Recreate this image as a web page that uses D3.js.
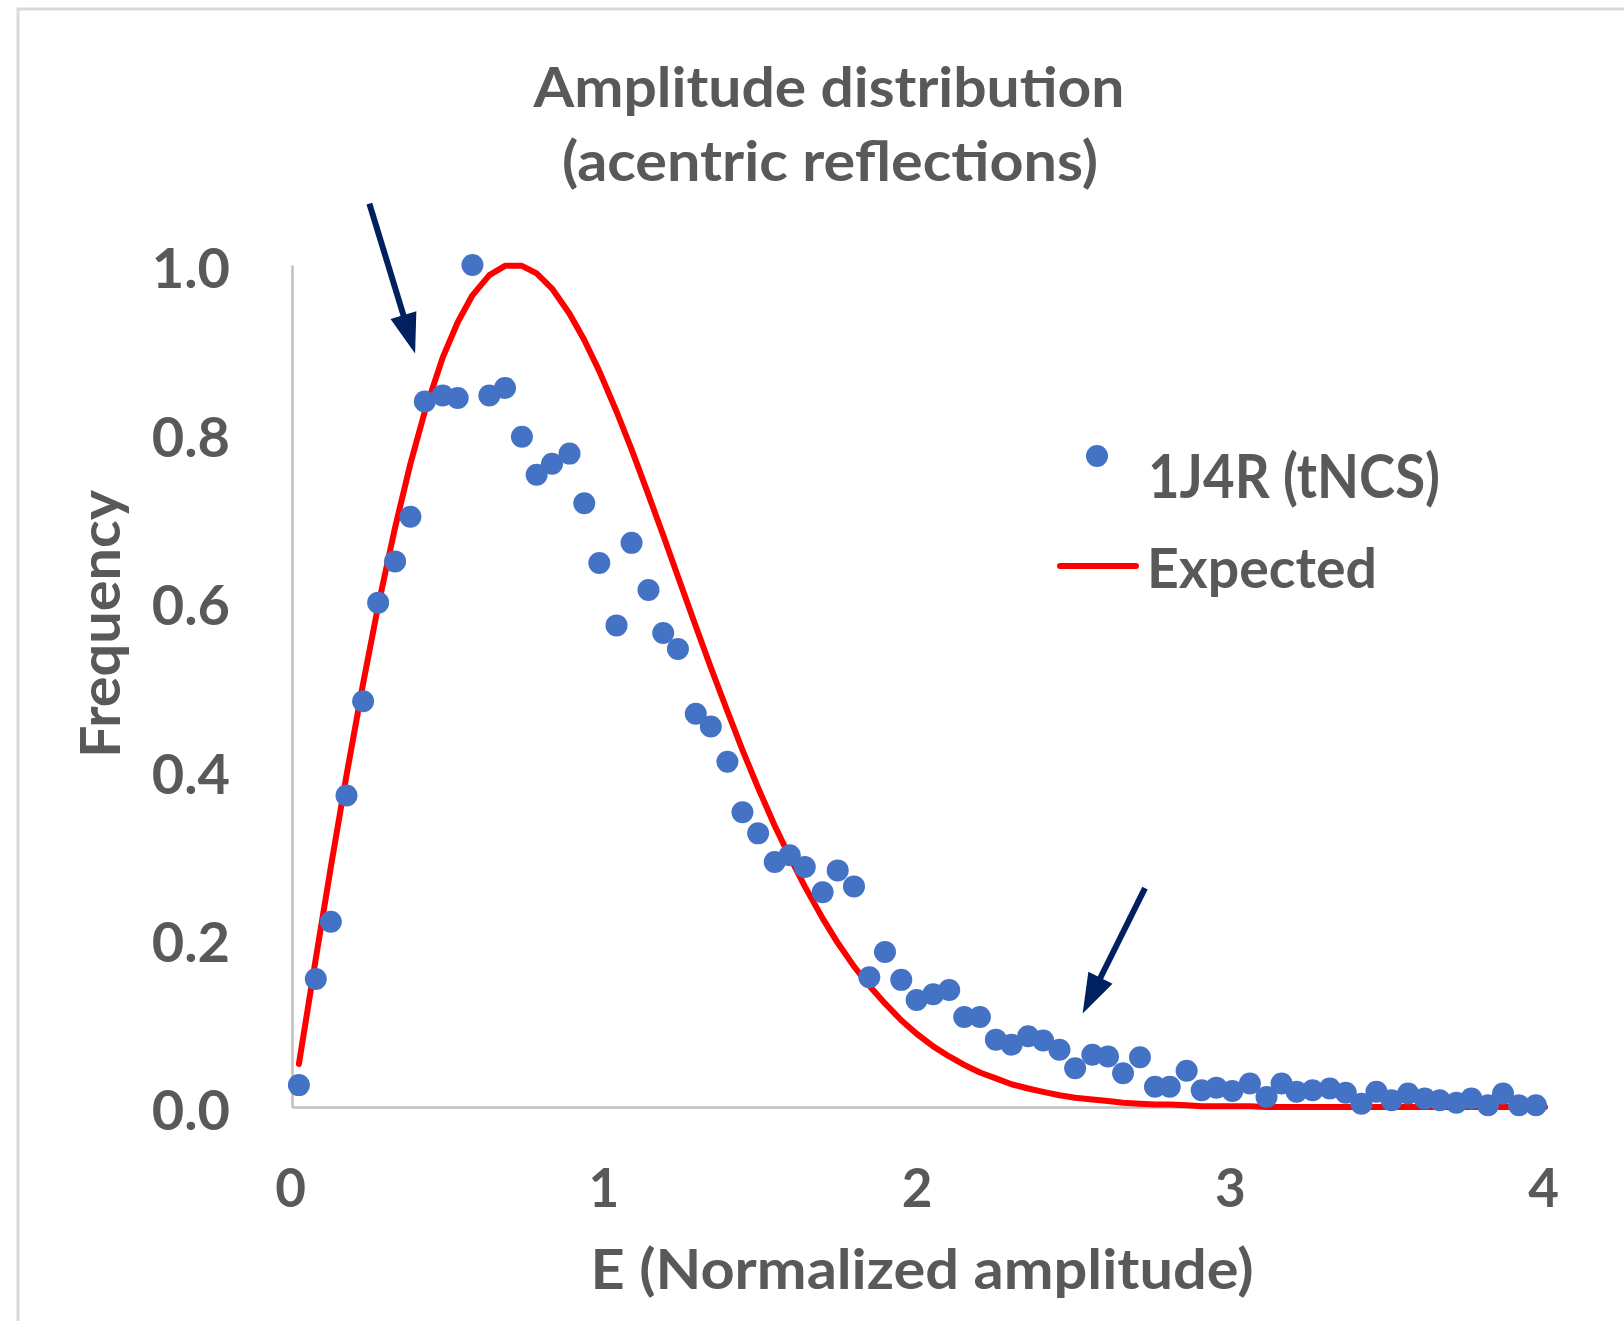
<!DOCTYPE html>
<html>
<head>
<meta charset="utf-8">
<script src="https://cdn.jsdelivr.net/npm/d3@7"></script>
<style>
  body { margin: 0; background: #fff; }
  svg { display: block; }
  text { font-family: Lato, "Open Sans", sans-serif; font-weight: bold; fill: #595959; }
</style>
</head>
<body>
<svg id="chart" width="1624" height="1321"></svg>
<script>
var obsE = [0.022, 0.076, 0.124, 0.174, 0.227, 0.275, 0.329, 0.378, 0.424, 0.481,
    0.529, 0.576, 0.630, 0.680, 0.734, 0.781, 0.830, 0.886, 0.933, 0.981,
    1.036, 1.084, 1.138, 1.185, 1.232, 1.289, 1.337, 1.390, 1.438, 1.488,
    1.541, 1.589, 1.637, 1.694, 1.742, 1.794, 1.843, 1.893, 1.945, 1.994,
    2.047, 2.098, 2.146, 2.196, 2.247, 2.297, 2.350, 2.398, 2.450, 2.500,
    2.555, 2.605, 2.653, 2.707, 2.755, 2.802, 2.856, 2.904, 2.951, 3.002,
    3.058, 3.111, 3.159, 3.207, 3.258, 3.313, 3.364, 3.414, 3.462, 3.510,
    3.563, 3.616, 3.664, 3.717, 3.765, 3.818, 3.866, 3.917, 3.971];
var obsFreq = [0.026, 0.152, 0.220, 0.370, 0.482, 0.599, 0.648, 0.701, 0.838, 0.845,
    0.842, 1.000, 0.845, 0.854, 0.796, 0.751, 0.764, 0.776, 0.717, 0.646,
    0.572, 0.670, 0.614, 0.563, 0.544, 0.467, 0.452, 0.410, 0.350, 0.325,
    0.291, 0.299, 0.285, 0.255, 0.281, 0.262, 0.154, 0.184, 0.151, 0.127,
    0.134, 0.139, 0.107, 0.107, 0.080, 0.074, 0.084, 0.079, 0.068, 0.046,
    0.062, 0.060, 0.040, 0.059, 0.024, 0.024, 0.043, 0.020, 0.023, 0.019,
    0.028, 0.012, 0.028, 0.018, 0.020, 0.022, 0.017, 0.004, 0.018, 0.008,
    0.016, 0.010, 0.008, 0.005, 0.010, 0.002, 0.016, 0.002, 0.002];

// Expected (red curve), read at the same E positions
var expE = obsE.concat([4.0]);
var expFreq = [0.051, 0.176, 0.285, 0.394, 0.503, 0.595, 0.688, 0.764, 0.826, 0.890,
    0.932, 0.964, 0.988, 0.999, 0.999, 0.990, 0.972, 0.942, 0.911, 0.874,
    0.826, 0.781, 0.727, 0.679, 0.630, 0.571, 0.522, 0.470, 0.424, 0.379,
    0.334, 0.297, 0.262, 0.224, 0.195, 0.167, 0.144, 0.123, 0.103, 0.087,
    0.072, 0.060, 0.050, 0.041, 0.034, 0.027, 0.022, 0.018, 0.014, 0.011,
    0.009, 0.007, 0.005, 0.004, 0.003, 0.003, 0.002, 0.001, 0.001, 0.001,
    0.001, 0.000, 0.000, 0.000, 0.000, 0.000, 0.000, 0.000, 0.000, 0.000,
    0.000, 0.000, 0.000, 0.000, 0.000, 0.000, 0.000, 0.000, 0.000, 0.000];

var xTicks = [0, 1, 2, 3, 4];
var yTicks = [0, 0.2, 0.4, 0.6, 0.8, 1.0];
var titleLines = ["Amplitude distribution", "(acentric reflections)"];
var seriesNames = ["1J4R (tNCS)", "Expected"];
// arrows in data units: [fromE, fromFreq, toE, toFreq]
var arrows = [[0.247, 1.073, 0.393, 0.895], [2.723, 0.260, 2.524, 0.111]];

var svg = d3.select("#chart");
var ink = "#595959";

function fit(sel, len) {
    return sel.attr("textLength", len).attr("lengthAdjust", "spacingAndGlyphs");
}

// outer chart frame (cropped on right and bottom)
svg.append("rect")
    .attr("x", 18).attr("y", 9)
    .attr("width", 1700).attr("height", 1400)
    .attr("fill", "none")
    .attr("stroke", "#d9d9d9")
    .attr("stroke-width", 3);

var x = d3.scaleLinear().domain([0, 4]).range([292, 1545]);
var y = d3.scaleLinear().domain([0, 1]).range([1107, 265]);

// Title
svg.append("text").attr("x", 829).attr("y", 107)
    .attr("font-size", 56).attr("text-anchor", "middle")
    .call(fit, 591).text(titleLines[0]);
svg.append("text").attr("x", 830).attr("y", 181)
    .attr("font-size", 56).attr("text-anchor", "middle")
    .call(fit, 536).text(titleLines[1]);

// Y axis
var gy = svg.append("g")
    .attr("transform", "translate(" + x(0) + ",0)")
    .attr("color", ink)
    .call(d3.axisLeft(y).tickValues(yTicks).tickFormat(d3.format(".1f"))
        .tickSize(0).tickSizeOuter(0).tickPadding(62));
gy.select(".domain").attr("stroke", "#bfbfbf").attr("stroke-width", 2.5);
gy.selectAll("text")
    .attr("font-size", 56).attr("font-family", null)
    .attr("dy", "0.41em");

// X axis
var gx = svg.append("g")
    .attr("transform", "translate(0," + y(0) + ")")
    .attr("color", ink)
    .call(d3.axisBottom(x).tickValues(xTicks).tickFormat(d3.format("d"))
        .tickSize(0).tickSizeOuter(0).tickPadding(62));
gx.select(".domain").attr("stroke", "#bfbfbf").attr("stroke-width", 2.5);
gx.selectAll("text")
    .attr("font-size", 53).attr("font-family", null)
    .attr("x", -2).attr("dy", "0.71em");

// axis titles
svg.append("text").attr("x", 922).attr("y", 1289)
    .attr("font-size", 56).attr("text-anchor", "middle")
    .call(fit, 663).text("E (Normalized amplitude)");
svg.append("text")
    .attr("transform", "translate(120,624) rotate(-90)")
    .attr("font-size", 56).attr("text-anchor", "middle")
    .call(fit, 268).text("Frequency");

// Expected curve
var line = d3.line()
    .x(function(d, i) { return x(expE[i]); })
    .y(function(d) { return y(d); });
svg.append("path")
    .datum(expFreq)
    .attr("d", line)
    .attr("fill", "none")
    .attr("stroke", "#ff0000")
    .attr("stroke-width", 6)
    .attr("stroke-linejoin", "round")
    .attr("stroke-linecap", "round");

// Observed points
svg.selectAll("circle.obs")
    .data(obsFreq)
    .enter()
    .append("circle")
    .attr("class", "obs")
    .attr("cx", function(d, i) { return x(obsE[i]); })
    .attr("cy", function(d) { return y(d); })
    .attr("r", 11)
    .attr("fill", "#4472c4");

// Arrows
arrows.forEach(function(a) {
    var x1 = x(a[0]), y1 = y(a[1]), x2 = x(a[2]), y2 = y(a[3]);
    var dx = x2 - x1, dy = y2 - y1, len = Math.sqrt(dx * dx + dy * dy);
    var ux = dx / len, uy = dy / len;
    var headLen = 40, headHalf = 13.5;
    var bx = x2 - ux * headLen, by = y2 - uy * headLen;
    svg.append("line")
        .attr("x1", x1).attr("y1", y1)
        .attr("x2", bx + ux * 2).attr("y2", by + uy * 2)
        .attr("stroke", "#002060").attr("stroke-width", 6);
    svg.append("path")
        .attr("d", "M" + x2 + "," + y2 +
            "L" + (bx - uy * headHalf) + "," + (by + ux * headHalf) +
            "L" + (bx + uy * headHalf) + "," + (by - ux * headHalf) + "Z")
        .attr("fill", "#002060");
});

// Legend
var lg = svg.append("g");
lg.append("circle").attr("cx", 1097).attr("cy", 456).attr("r", 11).attr("fill", "#4472c4");
lg.append("text").attr("x", 1148).attr("y", 498)
    .attr("font-size", 62).call(fit, 292).text(seriesNames[0]);
lg.append("line")
    .attr("x1", 1060).attr("x2", 1136).attr("y1", 566).attr("y2", 566)
    .attr("stroke", "#ff0000").attr("stroke-width", 6).attr("stroke-linecap", "round");
lg.append("text").attr("x", 1147).attr("y", 588)
    .attr("font-size", 56).call(fit, 230).text(seriesNames[1]);
</script>
</body>
</html>
